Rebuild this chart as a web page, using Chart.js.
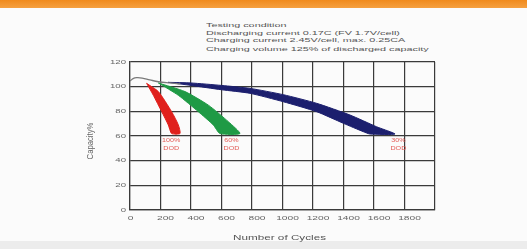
<!DOCTYPE html>
<html>
<head>
<meta charset="utf-8">
<script src="https://cdn.jsdelivr.net/npm/chart.js@4"></script>
<style>
  body { margin: 0; width: 527px; height: 249px; overflow: hidden; background: #fbfbfb; font-family: "Liberation Sans", Arial, sans-serif; }
  #topbar { position: absolute; left: 0; top: 0; width: 527px; height: 8px; background: linear-gradient(#f08a1c, #f5a040); }
  #bottombar { position: absolute; left: 0; top: 241px; width: 527px; height: 8px; background: #ececec; }
  #conditions { position: absolute; left: 206px; top: 22px; font-size: 6px; line-height: 7.6px; color: #555; white-space: nowrap;
                transform: scaleX(1.8); transform-origin: 0 0; }
  #wrap { position: absolute; left: 0; top: 0; width: 527px; height: 249px; }
</style>
</head>
<body>
<div id="topbar"></div>
<div id="bottombar"></div>
<div id="conditions">
  Testing condition<br>
  Discharging current 0.17C (FV 1.7V/cell)<br>
  Charging current 2.45V/cell, max. 0.25CA<br>
  <span style="position:relative;top:1px">Charging volume 125% of discharged capacity</span>
</div>
<div id="wrap"><canvas id="chart"></canvas></div>
<script>
// x axis ticks and y axis ticks
const cycleTicks = [0, 200, 400, 600, 800, 1000, 1200, 1400, 1600, 1800, 2000];
const cycleTickLabels = ['0', '200', '400', '600', '800', '1000', '1200', '1400', '1600', '1800', ''];
const capacityTicks = [0, 20, 40, 60, 80, 100, 120];

// thin grey line at the start of all curves
const startCycles = [0, 20, 44, 80, 130, 186, 260, 330];
const startCapacity = [104.5, 106.5, 107.3, 107, 105.5, 104, 103, 102.3];

// 100% DOD band: left edge top->bottom, then right edge bottom->top
const dod100Cycles = [109, 153, 208, 251, 273, 328, 317, 273, 186, 109];
const dod100Capacity = [102.7, 93, 79.7, 69, 62, 62, 69, 79.7, 96, 102.7];

// 60% DOD band
const dod60Cycles = [186, 317, 448, 546, 590, 721, 645, 514, 361, 186];
const dod60Capacity = [103, 93, 79.7, 69, 62, 62, 71.6, 85, 96, 103];

// 30% DOD band
const dod30Cycles = [250, 400, 600, 787, 1005, 1224, 1399, 1530, 1574, 1738, 1617, 1443, 1224, 1005, 787, 600, 400, 250];
const dod30Capacity = [103.5, 101, 97.5, 94.6, 87.8, 79.7, 70.3, 63.5, 61.6, 61.6, 67.5, 77, 86.5, 93.5, 98.6, 101, 103, 103.5];

// DOD labels: cycle position, capacity position, text
const dodLabels = [
  { cycle: 270, cap: 53, lines: ['100%', 'DOD'] },
  { cycle: 665, cap: 53, lines: ['60%', 'DOD'] },
  { cycle: 1760, cap: 53, lines: ['30%', 'DOD'] }
];

const FONT = '"Liberation Sans", Arial, sans-serif';

function toPoints(xs, ys) {
  return xs.map((x, i) => ({ x: x, y: ys[i] }));
}

// the source picture is stretched sideways, so text is drawn wider than normal
function wideText(ctx, text, x, y, sx) {
  ctx.save();
  ctx.translate(x, y);
  ctx.scale(sx, 1);
  ctx.fillText(text, 0, 0);
  ctx.restore();
}

const textPlugin = {
  id: 'wideLabels',
  afterDraw(chart) {
    const ctx = chart.ctx;
    const xs = chart.scales.x;
    const ys = chart.scales.y;
    const area = chart.chartArea;
    ctx.save();
    ctx.textBaseline = 'middle';
    ctx.textAlign = 'center';

    // DOD labels
    ctx.fillStyle = '#e25a55';
    ctx.font = '5.5px ' + FONT;
    dodLabels.forEach(l => {
      const px = xs.getPixelForValue(l.cycle);
      const py = ys.getPixelForValue(l.cap);
      wideText(ctx, l.lines[0], px, py - 4, 1.3);
      wideText(ctx, l.lines[1], px, py + 4, 1.3);
    });

    ctx.fillStyle = '#666';
    ctx.font = '6px ' + FONT;
    // x tick labels
    cycleTicks.forEach((v, i) => {
      const px = xs.getPixelForValue(v) + (v > 0 ? 5 : 0.5);
      wideText(ctx, cycleTickLabels[i], px, area.bottom + 8, 1.7);
    });
    // y tick labels
    ctx.textAlign = 'right';
    capacityTicks.forEach(v => {
      wideText(ctx, String(v), area.left - 4, ys.getPixelForValue(v), 1.6);
    });

    // axis titles
    ctx.fillStyle = '#555';
    ctx.textAlign = 'center';
    ctx.font = '6.5px ' + FONT;
    wideText(ctx, 'Number of Cycles', (area.left + area.right) / 2 - 3, area.bottom + 28, 1.8);

    ctx.fillStyle = '#666';
    ctx.font = '7px ' + FONT;
    ctx.translate(90, (area.top + area.bottom) / 2 + 5);
    ctx.rotate(-Math.PI / 2);
    ctx.scale(1.1, 1.3);
    ctx.fillText('Capacity%', 0, 0);
    ctx.restore();
  }
};

const ctx = document.getElementById('chart').getContext('2d');
new Chart(ctx, {
  type: 'line',
  data: {
    datasets: [
      {
        data: toPoints(startCycles, startCapacity),
        borderColor: '#7a7a7a',
        borderWidth: 1.3,
        fill: false,
        pointRadius: 0,
        tension: 0.4
      },
      {
        data: toPoints(dod30Cycles, dod30Capacity),
        borderColor: '#1c1f6e',
        backgroundColor: '#1c1f6e',
        borderWidth: 1,
        fill: 'shape',
        pointRadius: 0,
        tension: 0.2
      },
      {
        data: toPoints(dod60Cycles, dod60Capacity),
        borderColor: '#1f9a45',
        backgroundColor: '#1f9a45',
        borderWidth: 1,
        fill: 'shape',
        pointRadius: 0,
        tension: 0.2
      },
      {
        data: toPoints(dod100Cycles, dod100Capacity),
        borderColor: '#e0201c',
        backgroundColor: '#e0201c',
        borderWidth: 1,
        fill: 'shape',
        pointRadius: 0,
        tension: 0.2
      }
    ]
  },
  options: {
    responsive: true,
    maintainAspectRatio: false,
    animation: false,
    layout: { padding: { left: 80, right: 92, top: 62, bottom: 5 } },
    plugins: {
      legend: { display: false },
      tooltip: { enabled: false }
    },
    scales: {
      x: {
        type: 'linear',
        min: 0,
        max: 2000,
        afterFit: (scale) => { scale.height = 34; },
        afterBuildTicks: (scale) => { scale.ticks = cycleTicks.map(v => ({ value: v })); },
        ticks: { display: false },
        grid: { color: '#3a3a3a', lineWidth: 1.2, drawTicks: false },
        border: { color: '#3a3a3a', width: 1.2 }
      },
      y: {
        min: 0,
        max: 120,
        afterFit: (scale) => { scale.width = 50; },
        afterBuildTicks: (scale) => { scale.ticks = capacityTicks.map(v => ({ value: v })); },
        ticks: { display: false },
        grid: { color: '#3a3a3a', lineWidth: 1.2, drawTicks: false },
        border: { color: '#3a3a3a', width: 1.2 }
      }
    }
  },
  plugins: [textPlugin]
});
</script>
</body>
</html>
